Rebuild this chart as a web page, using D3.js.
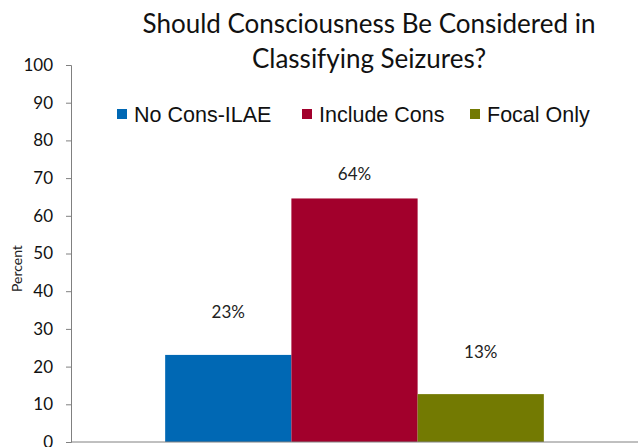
<!DOCTYPE html>
<html>
<head>
<meta charset="utf-8">
<script src="https://cdn.jsdelivr.net/npm/d3@7/dist/d3.min.js"></script>
<style>
  body { margin: 0; background: #fff; }
  svg { display: block; }
</style>
</head>
<body>
<div id="chart"></div>
<script>
// data
var series = ["No Cons-ILAE", "Include Cons", "Focal Only"];
var values = [23.1, 64.6, 12.7];
var valueLabels = ["23%", "64%", "13%"];
var colors = ["#0068b4", "#a2002c", "#737a02"];
var yTicks = [0, 10, 20, 30, 40, 50, 60, 70, 80, 90, 100];
var titleLines = ["Should Consciousness Be Considered in", "Classifying Seizures?"];

var W = 638, H = 447;
var margin = {top: 65, right: 0, bottom: 5, left: 71};
var width = W - margin.left - margin.right,
    height = H - margin.top - margin.bottom;

var svg = d3.select("#chart").append("svg")
    .attr("width", W).attr("height", H);

var g = svg.append("g")
    .attr("transform", "translate(" + margin.left + "," + margin.top + ")");

var x = d3.scaleBand()
    .domain(series)
    .range([0, width])
    .paddingInner(0)
    .paddingOuter(0.746);

var y = d3.scaleLinear()
    .domain([0, 100])
    .range([height, 0]);

// bars
g.selectAll(".bar")
    .data(series)
    .enter().append("rect")
    .attr("class", "bar")
    .attr("x", function(d) { return x(d); })
    .attr("width", x.bandwidth())
    .attr("y", function(d, i) { return y(values[i]); })
    .attr("height", function(d, i) { return height - y(values[i]); })
    .attr("fill", function(d, i) { return colors[i]; });

// value labels (manually placed in the original, offsets above bar tops)
var labelLift = [37, 18, 36];
g.selectAll(".vlabel")
    .data(series)
    .enter().append("text")
    .attr("class", "vlabel")
    .attr("x", function(d) { return x(d) + x.bandwidth() / 2; })
    .attr("y", function(d, i) { return y(values[i]) - labelLift[i]; })
    .attr("text-anchor", "middle")
    .style("font-family", "Lato, 'Open Sans', sans-serif")
    .style("font-size", "17px")
    .attr("fill", "#222")
    .text(function(d, i) { return valueLabels[i]; });

// left axis
var yAxis = d3.axisLeft(y).tickValues(yTicks).tickSize(5).tickPadding(13);
var ya = g.append("g").attr("class", "y axis").call(yAxis);
ya.select(".domain").attr("stroke", "#808080");
ya.selectAll(".tick line").attr("stroke", "#808080");
ya.selectAll("text")
    .style("font-family", "Lato, 'Open Sans', sans-serif")
    .style("font-size", "17px")
    .attr("fill", "#111");

// bottom axis line
g.append("line")
    .attr("x1", 0).attr("x2", width)
    .attr("y1", height).attr("y2", height)
    .attr("stroke", "#808080");

// y label
svg.append("text")
    .attr("transform", "translate(22," + (margin.top + y(46)) + ") rotate(-90)")
    .attr("text-anchor", "middle")
    .style("font-family", "Lato, 'Open Sans', sans-serif")
    .style("font-size", "14px")
    .attr("fill", "#222")
    .text("Percent");

// title
svg.selectAll(".title")
    .data(titleLines)
    .enter().append("text")
    .attr("class", "title")
    .attr("x", 369)
    .attr("y", function(d, i) { return 33 + i * 35; })
    .attr("text-anchor", "middle")
    .style("font-family", "Lato, 'Open Sans', sans-serif")
    .style("font-size", "26px")
    .attr("fill", "#111")
    .text(function(d) { return d; });

// legend
var legendX = [117, 302, 470];
var leg = svg.selectAll(".legend")
    .data(series)
    .enter().append("g")
    .attr("class", "legend")
    .attr("transform", function(d, i) { return "translate(" + legendX[i] + ",114)"; });
leg.append("rect")
    .attr("x", 0).attr("y", -5)
    .attr("width", 10).attr("height", 10)
    .attr("fill", function(d, i) { return colors[i]; });
leg.append("text")
    .attr("x", 17).attr("y", 7.5)
    .style("font-family", "'Liberation Sans', Arial, sans-serif")
    .style("font-size", "21.5px")
    .attr("fill", "#111")
    .text(function(d) { return d; });
</script>
</body>
</html>
